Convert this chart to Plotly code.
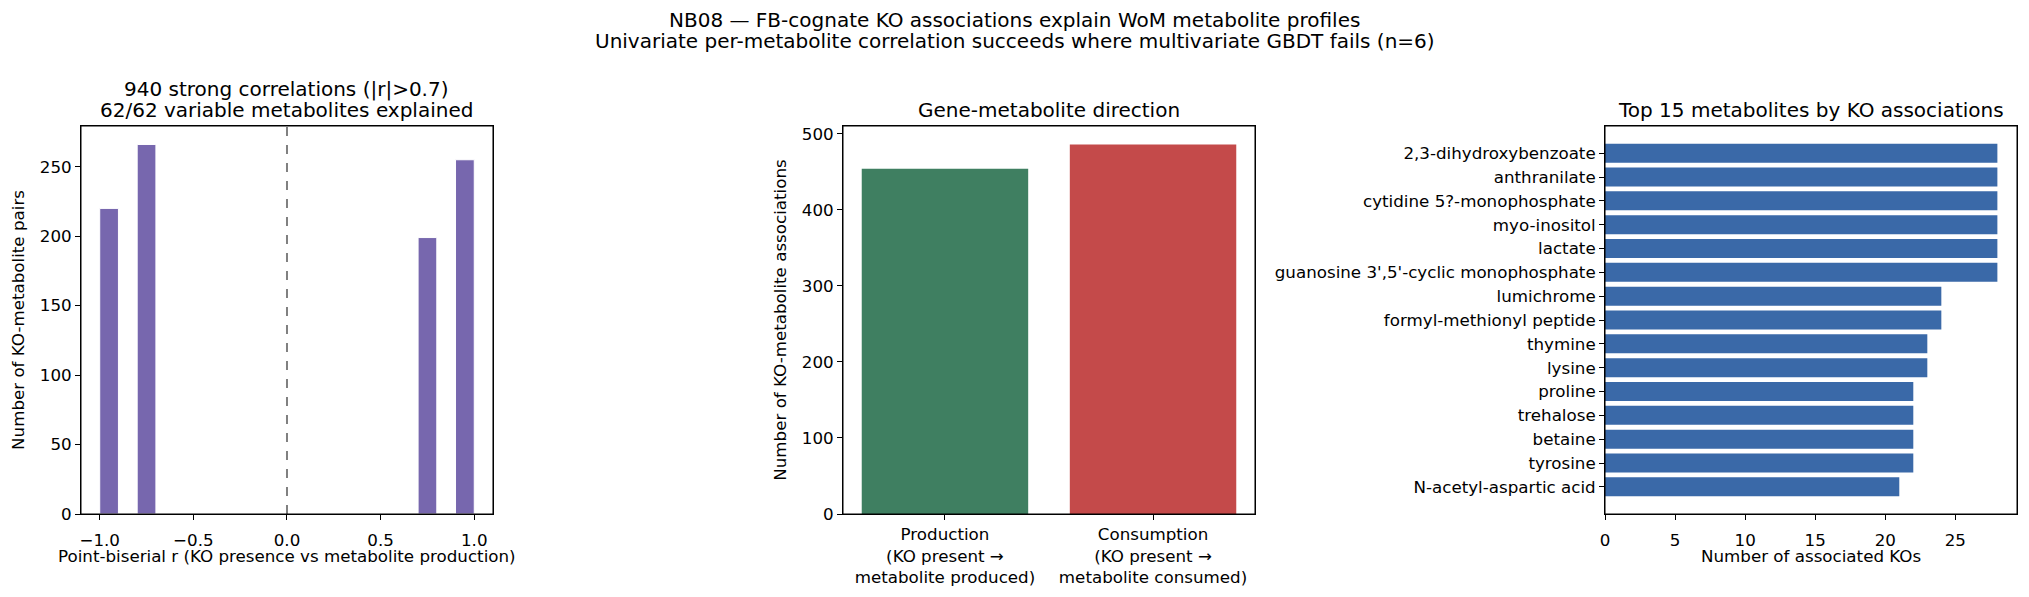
import plotly.graph_objects as go

# panel 1: histogram of strong point-biserial correlations
bin_lo = [-1.0, -0.8, 0.7, 0.9]
bin_hi = [-0.9, -0.7, 0.8, 1.0]
pair_counts = [220, 266, 199, 255]

# panel 2: direction of association
directions = [
    "Production<br>(KO present →<br>metabolite produced)",
    "Consumption<br>(KO present →<br>metabolite consumed)",
]
direction_counts = [454, 486]

# panel 3: top metabolites (top to bottom)
metabolites = [
    "2,3-dihydroxybenzoate",
    "anthranilate",
    "cytidine 5?-monophosphate",
    "myo-inositol",
    "lactate",
    "guanosine 3',5'-cyclic monophosphate",
    "lumichrome",
    "formyl-methionyl peptide",
    "thymine",
    "lysine",
    "proline",
    "trehalose",
    "betaine",
    "tyrosine",
    "N-acetyl-aspartic acid",
]
ko_counts = [28, 28, 28, 28, 28, 28, 24, 24, 23, 23, 22, 22, 22, 22, 21]

FONT = "DejaVu Sans"
PURPLE = "#7767ae"
GREEN = "#3f7f61"
RED = "#c44a4a"
BLUE = "#3a69a8"
TICK = 16.7
TITLE = 20

# the page body adds an 8px margin, so the figure is drawn 8px smaller
OFF = 8
W, H = 2029 - 2 * OFF, 597 - 2 * OFF
# plot area in page pixels
PL, PR, PT, PB = 81, 2017, 126, 514


def py(p):
    """page pixel row -> paper y"""
    return (PB - p) / (PB - PT)


fig = go.Figure()

centers = [(a + b) / 2 for a, b in zip(bin_lo, bin_hi)]
widths = [b - a for a, b in zip(bin_lo, bin_hi)]
fig.add_trace(go.Bar(
    x=centers, y=pair_counts, width=widths,
    marker=dict(color=PURPLE, line=dict(color="white", width=1)),
    xaxis="x", yaxis="y", showlegend=False,
))

fig.add_trace(go.Bar(
    x=[0, 1], y=direction_counts, width=0.8,
    marker=dict(color=[GREEN, RED], line=dict(width=0)),
    xaxis="x2", yaxis="y2", showlegend=False,
))

fig.add_trace(go.Bar(
    x=ko_counts, y=metabolites, orientation="h", width=0.8,
    marker=dict(color=BLUE, line=dict(width=0)),
    xaxis="x3", yaxis="y3", showlegend=False,
))

axis_style = dict(
    showline=True, mirror=True, linecolor="black", linewidth=1,
    ticks="outside", ticklen=5, tickwidth=1, tickcolor="black",
    showgrid=False, zeroline=False, automargin=False,
    tickfont=dict(size=TICK, color="black", family=FONT),
    title_font=dict(size=TICK, color="black", family=FONT),
)
x_style = dict(axis_style, ticklabelstandoff=6)

shapes = [dict(
    type="line", xref="x", yref="y domain", x0=0, x1=0, y0=0, y1=1,
    line=dict(color="gray", width=2, dash="dash"),
)]
for ax in ["", "2", "3"]:
    shapes.append(dict(
        type="rect", xref=f"x{ax} domain", yref=f"y{ax} domain",
        x0=0, x1=1, y0=0, y1=1, line=dict(color="black", width=1),
        fillcolor="rgba(0,0,0,0)", layer="above",
    ))


def note(text, xref, x, y, size=TITLE):
    return dict(text=text, xref=xref, yref="paper", x=x, y=y,
                xanchor="center", yanchor="middle", showarrow=False,
                font=dict(size=size, family=FONT, color="black"))


cx = (1014.5 - PL) / (PR - PL)
annotations = [
    note("NB08 — FB-cognate KO associations explain WoM metabolite profiles",
         "paper", cx, py(20)),
    note("Univariate per-metabolite correlation succeeds where multivariate GBDT fails (n=6)",
         "paper", cx, py(41)),
    note("940 strong correlations (|r|>0.7)", "x domain", 0.5, py(89)),
    note("62/62 variable metabolites explained", "x domain", 0.5, py(110)),
    note("Gene-metabolite direction", "x2 domain", 0.5, py(110)),
    note("Top 15 metabolites by KO associations", "x3 domain", 0.5, py(110)),
    # x-axis titles
    note("Point-biserial r (KO presence vs metabolite production)",
         "x domain", 0.5, py(556), size=TICK),
    note("Number of associated KOs", "x3 domain", 0.5, py(556), size=TICK),
]

fig.update_layout(
    width=W, height=H,
    margin=dict(l=PL - OFF, r=W - (PR - OFF), t=PT - OFF, b=H - (PB - OFF)),
    paper_bgcolor="white", plot_bgcolor="white",
    font=dict(family=FONT, color="black"),
    xaxis=dict(x_style, domain=[0, 0.2128], range=[-1.1, 1.1],
               dtick=0.5, tick0=0, tickformat=".1f"),
    yaxis=dict(axis_style, domain=[0, 1], range=[0, 279.3], dtick=50,
               title=dict(text="Number of KO-metabolite pairs", standoff=10)),
    xaxis2=dict(axis_style, domain=[0.3936, 0.6064], range=[-0.49, 1.49],
                tickvals=[0, 1], ticktext=directions, anchor="y2"),
    yaxis2=dict(axis_style, domain=[0, 1], range=[0, 510.3], dtick=100, anchor="x2",
                title=dict(text="Number of KO-metabolite associations", standoff=10)),
    xaxis3=dict(x_style, domain=[0.7872, 1], range=[0, 29.4], dtick=5, anchor="y3"),
    yaxis3=dict(axis_style, domain=[0, 1], anchor="x3", type="category",
                categoryorder="array", categoryarray=metabolites[::-1],
                range=[-1.14, 15.14]),
    shapes=shapes,
    annotations=annotations,
)

fig.write_html("out.html")
